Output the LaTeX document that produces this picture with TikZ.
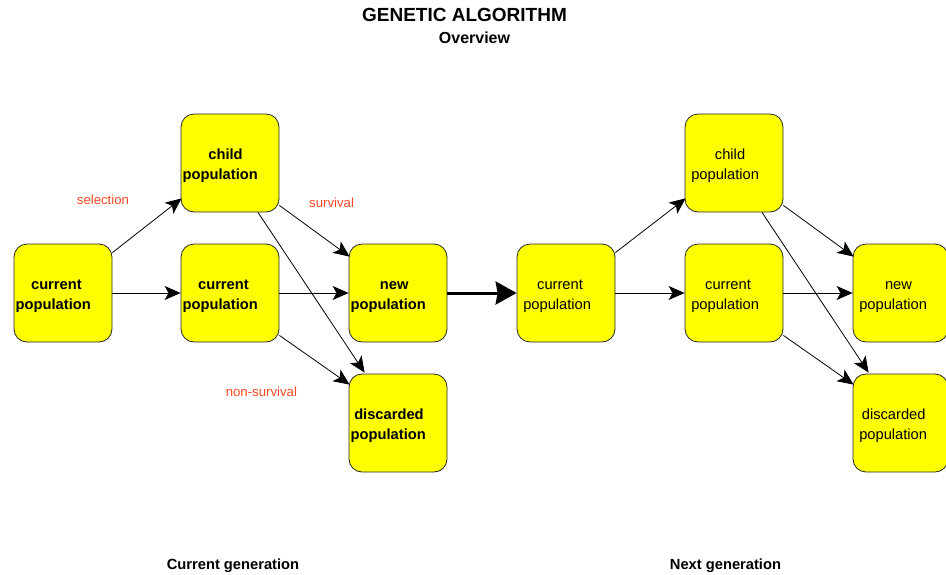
\documentclass[tikz,border=0pt]{standalone}
\usepackage{fontspec}
\setmainfont{Liberation Sans}
\usetikzlibrary{arrows.meta}
\definecolor{popfill}{RGB}{255,255,0}
\definecolor{opcolor}{RGB}{255,72,36}
% each box line is centred slightly left of the box centre
\newlength\poplinew
\newcommand\popline[1]{\settowidth{\poplinew}{#1}#1\kern0.26\poplinew}
\newcommand\poptext[2]{\rule{0pt}{11pt}\popline{#1}\\\popline{#2}\rule[-4pt]{0pt}{4pt}}
\tikzset{
  popbox/.style={draw=black!85, line width=0.8pt, fill=popfill, rounded corners=13pt,
    minimum width=98pt, minimum height=98pt, inner sep=0pt},
  poplabel/.style={align=center, inner sep=0pt, yshift=-2.65pt},
  boldtext/.style={font=\fontsize{14.7pt}{19.7pt}\selectfont\bfseries},
  plaintext/.style={font=\fontsize{14.7pt}{19.7pt}\selectfont},
  oplabel/.style={anchor=base west, inner sep=0pt, text=opcolor, font=\fontsize{13.2pt}{16pt}\selectfont},
  thinarrow/.style={-{Stealth[length=16pt,width=14pt,inset=4pt]}, line width=0.8pt},
  thickarrow/.style={-{Stealth[length=21pt,width=23pt,inset=2pt]}, line width=3pt},
}
\begin{document}
\begin{tikzpicture}[x=1pt,y=-1pt]
\useasboundingbox (0,0) rectangle (946,574);
\clip (0,0) rectangle (946,574);

% titles
\node[anchor=base, inner sep=0pt, font=\fontsize{19pt}{22pt}\selectfont\bfseries] (title) at (464.5,21.7) {GENETIC ALGORITHM};
\node[anchor=base, inner sep=0pt, font=\fontsize{16pt}{19pt}\selectfont\bfseries] (subtitle) at (474.5,43.3) {Overview};

% current generation
\node[popbox] (L) at (63,293) {};
\node[popbox] (C) at (230,163) {};
\node[popbox] (M) at (230,293) {};
\node[popbox] (N) at (398,293) {};
\node[popbox] (D) at (398,423) {};
\node[poplabel, boldtext] (Lt) at (L.center) {\poptext{current}{population}};
\node[poplabel, boldtext] (Ct) at (C.center) {\poptext{child}{population}};
\node[poplabel, boldtext] (Mt) at (M.center) {\poptext{current}{population}};
\node[poplabel, boldtext] (Nt) at (N.center) {\poptext{new}{population}};
\node[poplabel, boldtext] (Dt) at (D.center) {\poptext{discarded}{population}};

% next generation
\node[popbox] (L2) at (566,293) {};
\node[popbox] (C2) at (734,163) {};
\node[popbox] (M2) at (734,293) {};
\node[popbox, minimum width=95pt] (N2) at (900.5,293) {};
\node[popbox, minimum width=95pt] (D2) at (900.5,423) {};
\node[poplabel, plaintext] (L2t) at (L2.center) {\poptext{current}{population}};
\node[poplabel, plaintext] (C2t) at (C2.center) {\poptext{child}{population}};
\node[poplabel, plaintext] (M2t) at (M2.center) {\poptext{current}{population}};
\node[poplabel, plaintext, xshift=1.5pt] (N2t) at (N2.center) {\poptext{new}{population}};
\node[poplabel, plaintext, xshift=1.5pt] (D2t) at (D2.center) {\poptext{discarded}{population}};

% operation labels
\node[oplabel] (sel) at (76.7,204.3) {selection};
\node[oplabel] (surv) at (309,207.3) {survival};
\node[oplabel] (nsurv) at (225.6,396.7) {non-survival};

% connectors, current generation
\draw[thinarrow] ([yshift=-9pt]L.north east) -- ([xshift=1pt,yshift=14pt]C.south west);
\draw[thinarrow] (L.east) -- (M.west);
\draw[thinarrow] ([yshift=7pt]C.south east) -- ([xshift=1pt,yshift=-13pt]N.north west);
\draw[thinarrow] ([xshift=28pt]C.south) -- ([xshift=16pt,yshift=1pt]D.north west);
\draw[thinarrow] (M.east) -- (N.west);
\draw[thinarrow] ([yshift=7pt]M.south east) -- ([xshift=1pt,yshift=-11pt]D.north west);
\draw[thickarrow] (N.east) -- (L2.west);

% connectors, next generation
\draw[thinarrow] ([yshift=-9pt]L2.north east) -- ([xshift=1pt,yshift=14pt]C2.south west);
\draw[thinarrow] (L2.east) -- (M2.west);
\draw[thinarrow] ([yshift=7pt]C2.south east) -- ([xshift=1pt,yshift=-13pt]N2.north west);
\draw[thinarrow] ([xshift=28pt]C2.south) -- ([xshift=16pt,yshift=1pt]D2.north west);
\draw[thinarrow] (M2.east) -- (N2.west);
\draw[thinarrow] ([yshift=7pt]M2.south east) -- ([xshift=1pt,yshift=-11pt]D2.north west);

% generation captions
\node[anchor=base, inner sep=0pt, boldtext] (gen1) at (233,569) {Current generation};
\node[anchor=base, inner sep=0pt, boldtext] (gen2) at (725.5,569) {Next generation};
\end{tikzpicture}
\end{document}
